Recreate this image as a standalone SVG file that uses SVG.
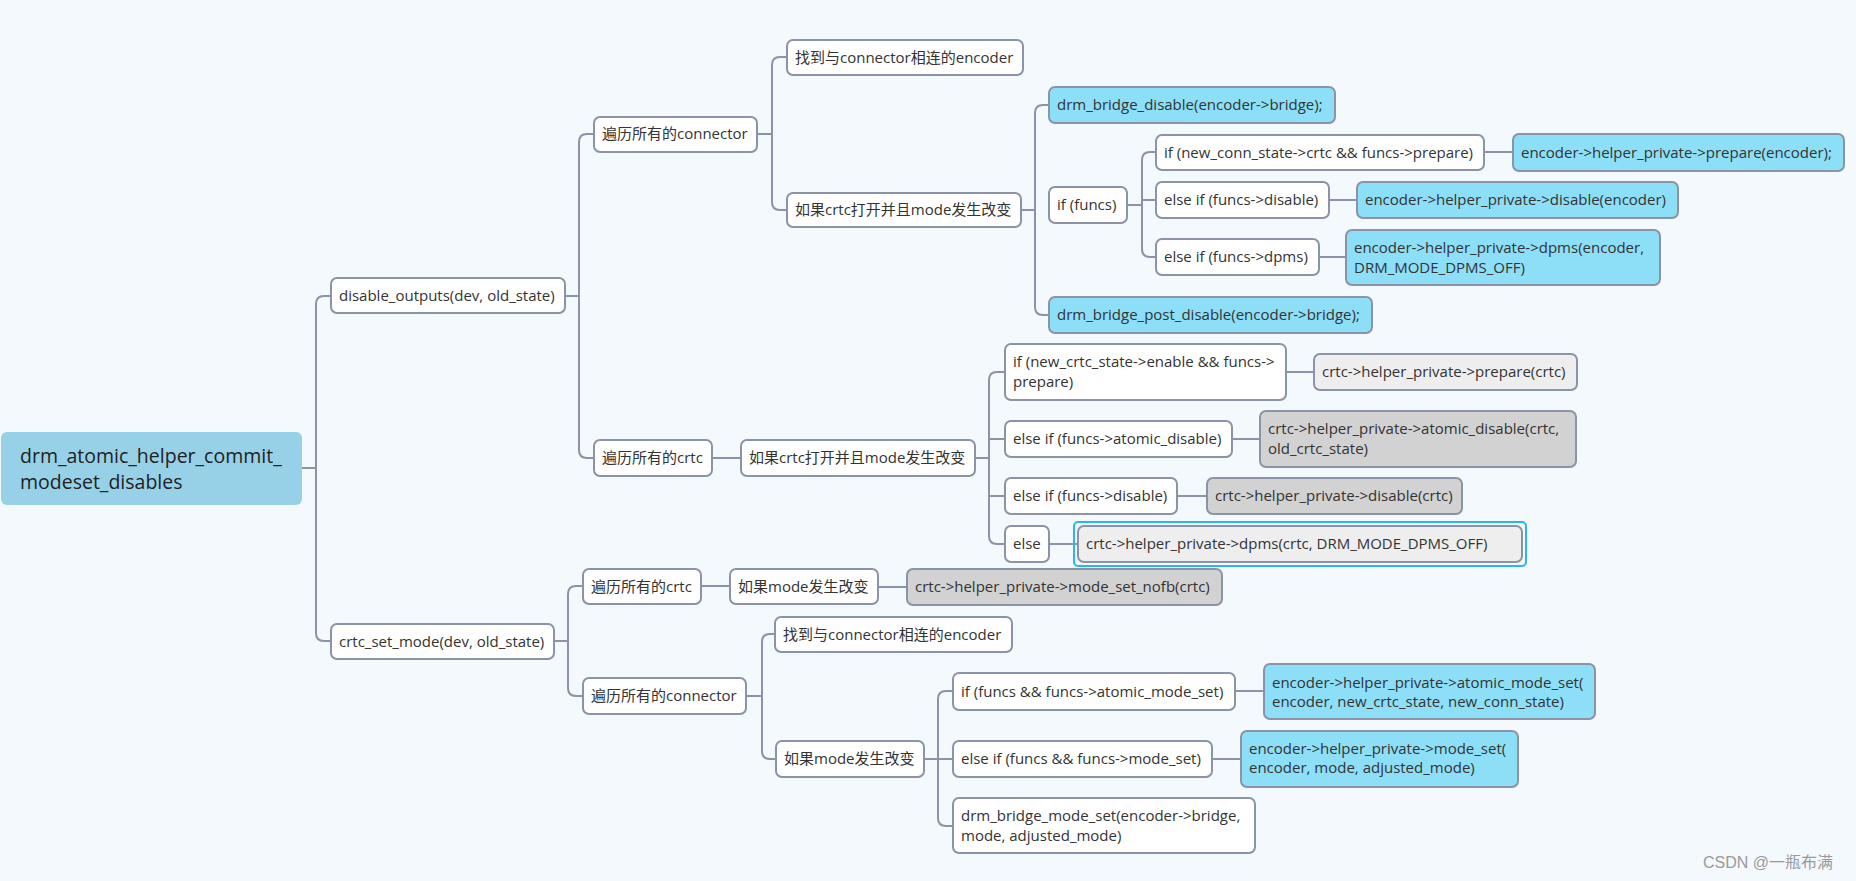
<svg xmlns="http://www.w3.org/2000/svg" width="1856" height="881" viewBox="0 0 1856 881">
<style>
.bg{fill:#f4f9fd}
.n{fill:#ffffff;stroke:#8a93a7;stroke-width:2}
.b{fill:#8ddff8;stroke:#8a93a7;stroke-width:2}
.g{fill:#d2d2d2;stroke:#8a93a7;stroke-width:2}
.l{fill:#eeeeee;stroke:#8a93a7;stroke-width:2}
.sel{fill:none;stroke:#2cb5ef;stroke-width:2}
.root{fill:#97d1e7}
text{font-family:"Open Sans","Noto Sans CJK SC",sans-serif;font-size:15px;fill:#333333}
.rt{font-size:19.5px;fill:#222222}
.wm{font-family:"Liberation Sans","Noto Sans CJK SC",sans-serif;font-size:16px;fill:#9a9a9a}
.c{fill:none;stroke:#8a93a7;stroke-width:2}
</style>
<rect class="bg" x="0" y="0" width="1856" height="881"/>
<g id="connectors">
<path class="c" d="M302,468 H316"/>
<path class="c" d="M331,296 H324 Q316,296 316,304 V633 Q316,641 324,641 H331"/>
<path class="c" d="M565,296 H579"/>
<path class="c" d="M594,134 H587 Q579,134 579,142 V450 Q579,458 587,458 H594"/>
<path class="c" d="M757,134 H772"/>
<path class="c" d="M787,57 H780 Q772,57 772,65 V202 Q772,210 780,210 H787"/>
<path class="c" d="M1021,210 H1035"/>
<path class="c" d="M1049,105 H1043 Q1035,105 1035,113 V307 Q1035,315 1043,315 H1049"/>
<path class="c" d="M1127,205 H1142"/>
<path class="c" d="M1156,152 H1150 Q1142,152 1142,160 V249 Q1142,257 1150,257 H1156 M1142,200 H1156"/>
<path class="c" d="M1484,152 H1513"/>
<path class="c" d="M1329,200 H1357"/>
<path class="c" d="M1319,257 H1346"/>
<path class="c" d="M712,458 H741"/>
<path class="c" d="M975,458 H989"/>
<path class="c" d="M1005,372 H997 Q989,372 989,380 V536 Q989,544 997,544 H1005 M989,439 H1005 M989,496 H1005"/>
<path class="c" d="M1286,372 H1314"/>
<path class="c" d="M1232,439 H1260"/>
<path class="c" d="M1177,496 H1207"/>
<path class="c" d="M1049,544 H1078"/>
<path class="c" d="M554,641 H568"/>
<path class="c" d="M583,586 H576 Q568,586 568,594 V688 Q568,696 576,696 H583"/>
<path class="c" d="M701,586 H730"/>
<path class="c" d="M878,587 H907"/>
<path class="c" d="M746,696 H762"/>
<path class="c" d="M775,634 H770 Q762,634 762,642 V751 Q762,759 770,759 H776"/>
<path class="c" d="M924,759 H938"/>
<path class="c" d="M953,691 H946 Q938,691 938,699 V818 Q938,826 946,826 H953 M938,759 H953"/>
<path class="c" d="M1235,691 H1264"/>
<path class="c" d="M1212,759 H1241"/>
</g>
<g id="root"><rect class="root" x="1" y="432" width="301" height="73" rx="6"/><text class="rt" x="20" y="463">drm_atomic_helper_commit_</text><text class="rt" x="20" y="489">modeset_disables</text></g>
<g id="disable_outputs"><rect class="n" x="331" y="278" width="234" height="35" rx="6"/><text x="339" y="301">disable_outputs(dev, old_state)</text></g>
<g id="conn1"><rect class="n" x="594" y="117" width="163" height="35" rx="6"/><text x="602" y="139">遍历所有的connector</text></g>
<g id="find1"><rect class="n" x="787" y="40" width="236" height="35" rx="6"/><text x="795" y="63">找到与connector相连的encoder</text></g>
<g id="ifcrtc1"><rect class="n" x="787" y="193" width="234" height="34" rx="6"/><text x="795" y="215">如果crtc打开并且mode发生改变</text></g>
<g id="bridge_disable"><rect class="b" x="1049" y="87" width="286" height="36" rx="6"/><text x="1057" y="110">drm_bridge_disable(encoder-&gt;bridge);</text></g>
<g id="iffuncs"><rect class="n" x="1049" y="187" width="78" height="36" rx="6"/><text x="1057" y="210">if (funcs)</text></g>
<g id="ifprepare"><rect class="n" x="1156" y="135" width="328" height="35" rx="6"/><text x="1164" y="158">if (new_conn_state-&gt;crtc &amp;&amp; funcs-&gt;prepare)</text></g>
<g id="elsedisable1"><rect class="n" x="1156" y="182" width="173" height="36" rx="6"/><text x="1164" y="205">else if (funcs-&gt;disable)</text></g>
<g id="elsedpms1"><rect class="n" x="1156" y="239" width="163" height="36" rx="6"/><text x="1164" y="262">else if (funcs-&gt;dpms)</text></g>
<g id="enc_prepare"><rect class="b" x="1513" y="134" width="331" height="37" rx="6"/><text x="1521" y="158">encoder-&gt;helper_private-&gt;prepare(encoder);</text></g>
<g id="enc_disable"><rect class="b" x="1357" y="182" width="321" height="36" rx="6"/><text x="1365" y="205">encoder-&gt;helper_private-&gt;disable(encoder)</text></g>
<g id="enc_dpms"><rect class="b" x="1346" y="230" width="314" height="55" rx="6"/><text x="1354" y="253">encoder-&gt;helper_private-&gt;dpms(encoder,</text><text x="1354" y="273">DRM_MODE_DPMS_OFF)</text></g>
<g id="bridge_post"><rect class="b" x="1049" y="297" width="323" height="36" rx="6"/><text x="1057" y="320">drm_bridge_post_disable(encoder-&gt;bridge);</text></g>
<g id="crtc1"><rect class="n" x="594" y="440" width="118" height="36" rx="6"/><text x="602" y="463">遍历所有的crtc</text></g>
<g id="ifcrtc2"><rect class="n" x="741" y="440" width="234" height="36" rx="6"/><text x="749" y="463">如果crtc打开并且mode发生改变</text></g>
<g id="ifenable"><rect class="n" x="1005" y="344" width="281" height="56" rx="6"/><text x="1013" y="367">if (new_crtc_state-&gt;enable &amp;&amp; funcs-&gt;</text><text x="1013" y="387">prepare)</text></g>
<g id="elseatomic"><rect class="n" x="1005" y="421" width="227" height="36" rx="6"/><text x="1013" y="444">else if (funcs-&gt;atomic_disable)</text></g>
<g id="elsedisable2"><rect class="n" x="1005" y="478" width="172" height="36" rx="6"/><text x="1013" y="501">else if (funcs-&gt;disable)</text></g>
<g id="else"><rect class="n" x="1005" y="526" width="44" height="36" rx="6"/><text x="1013" y="549">else</text></g>
<g id="crtc_prepare"><rect class="l" x="1314" y="354" width="263" height="36" rx="6"/><text x="1322" y="377">crtc-&gt;helper_private-&gt;prepare(crtc)</text></g>
<g id="crtc_atomic_disable"><rect class="g" x="1260" y="411" width="316" height="56" rx="6"/><text x="1268" y="434">crtc-&gt;helper_private-&gt;atomic_disable(crtc,</text><text x="1268" y="454">old_crtc_state)</text></g>
<g id="crtc_disable"><rect class="g" x="1207" y="478" width="255" height="36" rx="6"/><text x="1215" y="501">crtc-&gt;helper_private-&gt;disable(crtc)</text></g>
<g id="crtc_dpms"><rect class="sel" x="1074" y="522" width="452" height="44" rx="4"/><rect class="l" x="1078" y="526" width="444" height="36" rx="6"/><text x="1086" y="549">crtc-&gt;helper_private-&gt;dpms(crtc, DRM_MODE_DPMS_OFF)</text></g>
<g id="crtc_set_mode"><rect class="n" x="331" y="624" width="223" height="35" rx="6"/><text x="339" y="647">crtc_set_mode(dev, old_state)</text></g>
<g id="crtc2"><rect class="n" x="583" y="569" width="118" height="35" rx="6"/><text x="591" y="592">遍历所有的crtc</text></g>
<g id="ifmode1"><rect class="n" x="730" y="569" width="148" height="35" rx="6"/><text x="738" y="592">如果mode发生改变</text></g>
<g id="nofb"><rect class="g" x="907" y="569" width="315" height="36" rx="6"/><text x="915" y="592">crtc-&gt;helper_private-&gt;mode_set_nofb(crtc)</text></g>
<g id="conn2"><rect class="n" x="583" y="678" width="163" height="36" rx="6"/><text x="591" y="701">遍历所有的connector</text></g>
<g id="find2"><rect class="n" x="775" y="617" width="237" height="35" rx="6"/><text x="783" y="640">找到与connector相连的encoder</text></g>
<g id="ifmode2"><rect class="n" x="776" y="741" width="148" height="36" rx="6"/><text x="784" y="764">如果mode发生改变</text></g>
<g id="ifatomicset"><rect class="n" x="953" y="673" width="282" height="37" rx="6"/><text x="961" y="697">if (funcs &amp;&amp; funcs-&gt;atomic_mode_set)</text></g>
<g id="elsemodeset"><rect class="n" x="953" y="741" width="259" height="36" rx="6"/><text x="961" y="764">else if (funcs &amp;&amp; funcs-&gt;mode_set)</text></g>
<g id="bridge_mode_set"><rect class="n" x="953" y="798" width="302" height="55" rx="6"/><text x="961" y="821">drm_bridge_mode_set(encoder-&gt;bridge,</text><text x="961" y="841">mode, adjusted_mode)</text></g>
<g id="enc_atomic_mode_set"><rect class="b" x="1264" y="664" width="331" height="55" rx="6"/><text x="1272" y="688">encoder-&gt;helper_private-&gt;atomic_mode_set(</text><text x="1272" y="707">encoder, new_crtc_state, new_conn_state)</text></g>
<g id="enc_mode_set"><rect class="b" x="1241" y="731" width="277" height="56" rx="6"/><text x="1249" y="754">encoder-&gt;helper_private-&gt;mode_set(</text><text x="1249" y="773">encoder, mode, adjusted_mode)</text></g>
<text class="wm" x="1703" y="868">CSDN @一瓶布满</text>
</svg>
